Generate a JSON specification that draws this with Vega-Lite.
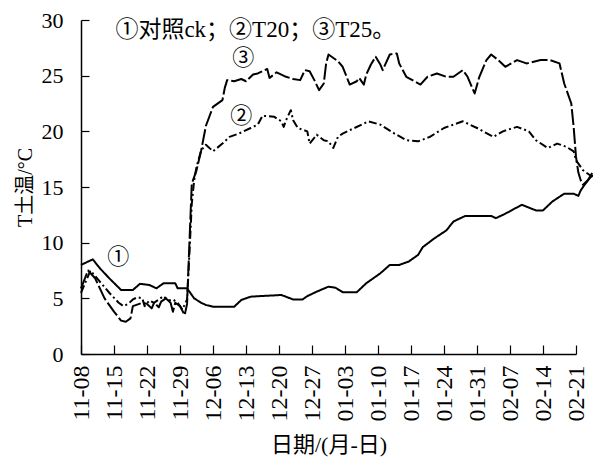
{
  "$schema": "https://vega.github.io/schema/vega-lite/v6.json",
  "width": 495,
  "height": 334,
  "autosize": "none",
  "padding": {"left": 81, "top": 20, "right": 19, "bottom": 108},
  "background": "white",
  "config": {"view": {"stroke": null}, "font": "Liberation Serif"},
  "datasets": {
    "temps": [
      {"s":"ck","t":"2019-11-08T00:00","v":8.0},{"s":"ck","t":"2019-11-10T12:00","v":8.5},{"s":"ck","t":"2019-11-12T00:00","v":7.7},{"s":"ck","t":"2019-11-14T00:00","v":6.8},{"s":"ck","t":"2019-11-16T12:00","v":5.75},{"s":"ck","t":"2019-11-19T00:00","v":5.75},{"s":"ck","t":"2019-11-20T12:00","v":6.3},{"s":"ck","t":"2019-11-22T12:00","v":6.2},{"s":"ck","t":"2019-11-24T00:00","v":5.9},{"s":"ck","t":"2019-11-25T12:00","v":6.35},{"s":"ck","t":"2019-11-28T00:00","v":6.35},{"s":"ck","t":"2019-11-28T12:00","v":5.9},{"s":"ck","t":"2019-11-30T12:00","v":5.9},{"s":"ck","t":"2019-12-02T00:00","v":5.0},{"s":"ck","t":"2019-12-03T12:00","v":4.6},{"s":"ck","t":"2019-12-04T12:00","v":4.4},{"s":"ck","t":"2019-12-06T00:00","v":4.25},{"s":"ck","t":"2019-12-10T12:00","v":4.25},{"s":"ck","t":"2019-12-12T00:00","v":4.85},{"s":"ck","t":"2019-12-14T00:00","v":5.15},{"s":"ck","t":"2019-12-16T00:00","v":5.2},{"s":"ck","t":"2019-12-20T12:00","v":5.3},{"s":"ck","t":"2019-12-23T00:00","v":4.9},{"s":"ck","t":"2019-12-25T00:00","v":4.9},{"s":"ck","t":"2019-12-26T00:00","v":5.2},{"s":"ck","t":"2019-12-28T00:00","v":5.6},{"s":"ck","t":"2019-12-30T12:00","v":6.05},{"s":"ck","t":"2020-01-01T00:00","v":5.95},{"s":"ck","t":"2020-01-02T12:00","v":5.55},{"s":"ck","t":"2020-01-05T12:00","v":5.55},{"s":"ck","t":"2020-01-07T12:00","v":6.35},{"s":"ck","t":"2020-01-10T12:00","v":7.25},{"s":"ck","t":"2020-01-12T12:00","v":8.0},{"s":"ck","t":"2020-01-14T12:00","v":8.0},{"s":"ck","t":"2020-01-16T12:00","v":8.3},{"s":"ck","t":"2020-01-18T12:00","v":8.9},{"s":"ck","t":"2020-01-19T12:00","v":9.6},{"s":"ck","t":"2020-01-22T00:00","v":10.4},{"s":"ck","t":"2020-01-24T12:00","v":11.1},{"s":"ck","t":"2020-01-26T00:00","v":11.9},{"s":"ck","t":"2020-01-28T12:00","v":12.4},{"s":"ck","t":"2020-02-03T00:00","v":12.4},{"s":"ck","t":"2020-02-04T00:00","v":12.2},{"s":"ck","t":"2020-02-06T00:00","v":12.6},{"s":"ck","t":"2020-02-09T12:00","v":13.4},{"s":"ck","t":"2020-02-12T12:00","v":12.9},{"s":"ck","t":"2020-02-14T00:00","v":12.9},{"s":"ck","t":"2020-02-16T00:00","v":13.7},{"s":"ck","t":"2020-02-18T12:00","v":14.4},{"s":"ck","t":"2020-02-20T12:00","v":14.4},{"s":"ck","t":"2020-02-21T12:00","v":14.2},{"s":"ck","t":"2020-02-22T00:00","v":14.7},{"s":"ck","t":"2020-02-23T00:00","v":15.3},{"s":"ck","t":"2020-02-24T12:00","v":16.1},

      {"s":"T25","t":"2019-11-08T00:00","v":5.9},{"s":"T25","t":"2019-11-09T12:00","v":7.5},{"s":"T25","t":"2019-11-11T00:00","v":6.8},{"s":"T25","t":"2019-11-13T00:00","v":5.0},{"s":"T25","t":"2019-11-15T00:00","v":3.8},{"s":"T25","t":"2019-11-16T12:00","v":3.0},{"s":"T25","t":"2019-11-17T12:00","v":2.9},{"s":"T25","t":"2019-11-18T12:00","v":3.2},{"s":"T25","t":"2019-11-19T00:00","v":4.3},{"s":"T25","t":"2019-11-21T00:00","v":4.6},{"s":"T25","t":"2019-11-22T00:00","v":4.5},{"s":"T25","t":"2019-11-23T00:00","v":4.1},{"s":"T25","t":"2019-11-23T12:00","v":4.6},{"s":"T25","t":"2019-11-24T12:00","v":4.2},{"s":"T25","t":"2019-11-25T00:00","v":4.7},{"s":"T25","t":"2019-11-26T00:00","v":5.0},{"s":"T25","t":"2019-11-27T00:00","v":4.6},{"s":"T25","t":"2019-11-27T12:00","v":3.8},{"s":"T25","t":"2019-11-28T00:00","v":4.6},{"s":"T25","t":"2019-11-29T00:00","v":4.3},{"s":"T25","t":"2019-11-30T00:00","v":3.5},{"s":"T25","t":"2019-11-30T12:00","v":4.5},{"s":"T25","t":"2019-12-01T00:00","v":10.0},{"s":"T25","t":"2019-12-01T12:00","v":15.3},{"s":"T25","t":"2019-12-02T12:00","v":16.5},{"s":"T25","t":"2019-12-03T12:00","v":18.3},{"s":"T25","t":"2019-12-04T12:00","v":20.5},{"s":"T25","t":"2019-12-06T00:00","v":22.2},{"s":"T25","t":"2019-12-08T00:00","v":22.8},{"s":"T25","t":"2019-12-08T12:00","v":23.9},{"s":"T25","t":"2019-12-09T00:00","v":24.6},{"s":"T25","t":"2019-12-10T12:00","v":24.5},{"s":"T25","t":"2019-12-12T00:00","v":24.7},{"s":"T25","t":"2019-12-13T00:00","v":24.5},{"s":"T25","t":"2019-12-14T12:00","v":25.1},{"s":"T25","t":"2019-12-15T12:00","v":25.2},{"s":"T25","t":"2019-12-17T12:00","v":25.6},{"s":"T25","t":"2019-12-18T00:00","v":24.8},{"s":"T25","t":"2019-12-19T12:00","v":25.3},{"s":"T25","t":"2019-12-21T12:00","v":24.9},{"s":"T25","t":"2019-12-23T00:00","v":24.7},{"s":"T25","t":"2019-12-24T12:00","v":24.6},{"s":"T25","t":"2019-12-25T12:00","v":25.5},{"s":"T25","t":"2019-12-26T12:00","v":25.4},{"s":"T25","t":"2019-12-27T12:00","v":24.6},{"s":"T25","t":"2019-12-28T12:00","v":23.7},{"s":"T25","t":"2019-12-29T12:00","v":24.3},{"s":"T25","t":"2019-12-30T00:00","v":26.1},{"s":"T25","t":"2019-12-30T12:00","v":26.9},{"s":"T25","t":"2020-01-01T12:00","v":26.3},{"s":"T25","t":"2020-01-02T12:00","v":25.8},{"s":"T25","t":"2020-01-04T00:00","v":24.2},{"s":"T25","t":"2020-01-05T12:00","v":24.5},{"s":"T25","t":"2020-01-06T00:00","v":24.8},{"s":"T25","t":"2020-01-07T00:00","v":24.2},{"s":"T25","t":"2020-01-07T12:00","v":25.1},{"s":"T25","t":"2020-01-08T12:00","v":26.0},{"s":"T25","t":"2020-01-09T12:00","v":26.7},{"s":"T25","t":"2020-01-10T12:00","v":26.0},{"s":"T25","t":"2020-01-11T00:00","v":25.5},{"s":"T25","t":"2020-01-12T12:00","v":26.9},{"s":"T25","t":"2020-01-14T00:00","v":27.0},{"s":"T25","t":"2020-01-14T12:00","v":26.1},{"s":"T25","t":"2020-01-16T00:00","v":24.9},{"s":"T25","t":"2020-01-19T00:00","v":24.2},{"s":"T25","t":"2020-01-20T12:00","v":24.9},{"s":"T25","t":"2020-01-22T12:00","v":25.2},{"s":"T25","t":"2020-01-24T12:00","v":24.9},{"s":"T25","t":"2020-01-26T00:00","v":24.9},{"s":"T25","t":"2020-01-28T00:00","v":25.5},{"s":"T25","t":"2020-01-29T00:00","v":24.9},{"s":"T25","t":"2020-01-30T12:00","v":23.4},{"s":"T25","t":"2020-01-31T12:00","v":24.9},{"s":"T25","t":"2020-02-02T00:00","v":26.4},{"s":"T25","t":"2020-02-03T00:00","v":26.9},{"s":"T25","t":"2020-02-04T12:00","v":26.4},{"s":"T25","t":"2020-02-06T00:00","v":25.8},{"s":"T25","t":"2020-02-08T12:00","v":26.4},{"s":"T25","t":"2020-02-10T12:00","v":26.1},{"s":"T25","t":"2020-02-13T12:00","v":26.4},{"s":"T25","t":"2020-02-15T12:00","v":26.4},{"s":"T25","t":"2020-02-17T12:00","v":26.1},{"s":"T25","t":"2020-02-18T12:00","v":24.3},{"s":"T25","t":"2020-02-20T00:00","v":22.5},{"s":"T25","t":"2020-02-20T12:00","v":20.4},{"s":"T25","t":"2020-02-21T00:00","v":17.7},{"s":"T25","t":"2020-02-21T12:00","v":16.3},{"s":"T25","t":"2020-02-22T00:00","v":15.6},{"s":"T25","t":"2020-02-22T12:00","v":15.2},{"s":"T25","t":"2020-02-23T12:00","v":15.6},{"s":"T25","t":"2020-02-24T12:00","v":16.3},

      {"s":"T20","t":"2019-11-08T00:00","v":5.5},{"s":"T20","t":"2019-11-10T00:00","v":7.5},{"s":"T20","t":"2019-11-12T00:00","v":6.5},{"s":"T20","t":"2019-11-14T00:00","v":5.5},{"s":"T20","t":"2019-11-16T00:00","v":4.6},{"s":"T20","t":"2019-11-17T00:00","v":4.3},{"s":"T20","t":"2019-11-18T00:00","v":4.5},{"s":"T20","t":"2019-11-19T00:00","v":4.9},{"s":"T20","t":"2019-11-20T00:00","v":5.1},{"s":"T20","t":"2019-11-21T00:00","v":5.0},{"s":"T20","t":"2019-11-21T12:00","v":4.3},{"s":"T20","t":"2019-11-22T12:00","v":4.8},{"s":"T20","t":"2019-11-23T12:00","v":4.6},{"s":"T20","t":"2019-11-24T12:00","v":4.9},{"s":"T20","t":"2019-11-25T12:00","v":5.2},{"s":"T20","t":"2019-11-26T12:00","v":4.8},{"s":"T20","t":"2019-11-27T12:00","v":4.9},{"s":"T20","t":"2019-11-28T12:00","v":4.6},{"s":"T20","t":"2019-11-29T12:00","v":4.0},{"s":"T20","t":"2019-11-30T12:00","v":4.9},{"s":"T20","t":"2019-12-01T00:00","v":9.0},{"s":"T20","t":"2019-12-01T12:00","v":13.5},{"s":"T20","t":"2019-12-02T00:00","v":15.6},{"s":"T20","t":"2019-12-02T12:00","v":16.8},{"s":"T20","t":"2019-12-03T12:00","v":18.3},{"s":"T20","t":"2019-12-04T12:00","v":18.8},{"s":"T20","t":"2019-12-06T00:00","v":18.2},{"s":"T20","t":"2019-12-08T00:00","v":18.9},{"s":"T20","t":"2019-12-09T12:00","v":19.5},{"s":"T20","t":"2019-12-11T12:00","v":19.8},{"s":"T20","t":"2019-12-14T00:00","v":20.3},{"s":"T20","t":"2019-12-15T12:00","v":20.6},{"s":"T20","t":"2019-12-16T12:00","v":21.4},{"s":"T20","t":"2019-12-19T00:00","v":21.3},{"s":"T20","t":"2019-12-20T12:00","v":20.9},{"s":"T20","t":"2019-12-21T00:00","v":20.4},{"s":"T20","t":"2019-12-21T12:00","v":21.0},{"s":"T20","t":"2019-12-22T12:00","v":21.9},{"s":"T20","t":"2019-12-23T00:00","v":21.0},{"s":"T20","t":"2019-12-24T00:00","v":20.3},{"s":"T20","t":"2019-12-26T00:00","v":20.0},{"s":"T20","t":"2019-12-26T12:00","v":18.9},{"s":"T20","t":"2019-12-28T00:00","v":19.7},{"s":"T20","t":"2019-12-29T12:00","v":19.2},{"s":"T20","t":"2019-12-30T12:00","v":19.1},{"s":"T20","t":"2019-12-31T12:00","v":18.5},{"s":"T20","t":"2020-01-01T12:00","v":19.5},{"s":"T20","t":"2020-01-02T12:00","v":19.8},{"s":"T20","t":"2020-01-05T00:00","v":20.3},{"s":"T20","t":"2020-01-08T00:00","v":20.9},{"s":"T20","t":"2020-01-10T12:00","v":20.6},{"s":"T20","t":"2020-01-13T12:00","v":19.8},{"s":"T20","t":"2020-01-16T00:00","v":19.2},{"s":"T20","t":"2020-01-18T12:00","v":19.1},{"s":"T20","t":"2020-01-21T00:00","v":19.5},{"s":"T20","t":"2020-01-24T00:00","v":20.3},{"s":"T20","t":"2020-01-28T00:00","v":20.9},{"s":"T20","t":"2020-01-31T00:00","v":20.3},{"s":"T20","t":"2020-02-03T12:00","v":19.5},{"s":"T20","t":"2020-02-05T12:00","v":20.0},{"s":"T20","t":"2020-02-08T12:00","v":20.4},{"s":"T20","t":"2020-02-11T00:00","v":20.0},{"s":"T20","t":"2020-02-12T12:00","v":19.2},{"s":"T20","t":"2020-02-15T00:00","v":18.5},{"s":"T20","t":"2020-02-17T00:00","v":18.9},{"s":"T20","t":"2020-02-19T00:00","v":18.6},{"s":"T20","t":"2020-02-20T12:00","v":18.2},{"s":"T20","t":"2020-02-21T00:00","v":17.4},{"s":"T20","t":"2020-02-22T12:00","v":16.5},{"s":"T20","t":"2020-02-24T12:00","v":15.9}
    ],
    "notes": [
      {"t":"2019-11-15T07:00","v":29.1,"label":"①对照ck；②T20；③T25。","a":"left"},
      {"t":"2019-12-12T10:00","v":26.6,"label":"③","a":"center"},
      {"t":"2019-12-12T00:00","v":21.4,"label":"②","a":"center"},
      {"t":"2019-11-15T22:00","v":8.7,"label":"①","a":"center"}
    ]
  },
  "layer": [
    {
      "data": {"name": "temps"},
      "mark": {"type": "line", "clip": false, "strokeWidth": 2, "color": "black", "strokeJoin": "round"},
      "encoding": {
        "x": {
          "field": "t", "type": "temporal",
          "scale": {"domain": [{"year":2019,"month":11,"date":8},{"year":2020,"month":2,"date":21}]},
          "axis": {
            "title": "日期/(月-日)",
            "values": [
              {"year":2019,"month":11,"date":8},{"year":2019,"month":11,"date":15},{"year":2019,"month":11,"date":22},{"year":2019,"month":11,"date":29},
              {"year":2019,"month":12,"date":6},{"year":2019,"month":12,"date":13},{"year":2019,"month":12,"date":20},{"year":2019,"month":12,"date":27},
              {"year":2020,"month":1,"date":3},{"year":2020,"month":1,"date":10},{"year":2020,"month":1,"date":17},{"year":2020,"month":1,"date":24},
              {"year":2020,"month":1,"date":31},{"year":2020,"month":2,"date":7},{"year":2020,"month":2,"date":14},{"year":2020,"month":2,"date":21}
            ],
            "tickCount": 30,
            "format": "%m-%d",
            "labelAngle": -90,
            "labelAlign": "right",
            "labelBaseline": "middle",
            "labelFont": "Liberation Serif",
            "labelFontSize": 24,
            "labelColor": "black",
            "labelPadding": 20,
            "labelOverlap": false,
            "labelFlush": false,
            "tickSize": -9,
            "tickColor": "black",
            "tickWidth": 1.2,
            "domainColor": "black",
            "domainWidth": 1.5,
            "grid": false,
            "titleFont": "Liberation Serif, Noto Sans CJK SC",
            "titleFontSize": 22,
            "titleFontWeight": "normal",
            "titleColor": "black",
            "titleBaseline": "alphabetic",
            "titleY": 97
          }
        },
        "y": {
          "field": "v", "type": "quantitative",
          "scale": {"domain": [0, 30], "nice": false},
          "axis": {
            "title": "T土温/°C",
            "values": [0, 5, 10, 15, 20, 25, 30],
            "tickCount": 10,
            "labelFont": "Liberation Serif",
            "labelFontSize": 22,
            "labelColor": "black",
            "labelPadding": 26,
            "tickSize": -8,
            "tickColor": "black",
            "tickWidth": 1.2,
            "domainColor": "black",
            "domainWidth": 1.5,
            "grid": false,
            "titleFont": "Liberation Serif, Noto Sans CJK SC",
            "titleFontSize": 20,
            "titleFontWeight": "normal",
            "titleColor": "black",
            "titleAngle": -90,
            "titleBaseline": "middle",
            "titleAlign": "center",
            "titleX": -56,
            "titleY": 167
          }
        },
        "detail": {"field": "s"},
        "strokeDash": {
          "field": "s", "type": "nominal",
          "scale": {"domain": ["ck", "T20", "T25"], "range": [[1, 0], [8, 3, 2, 3], [16, 3]]},
          "legend": null
        }
      }
    },
    {
      "data": {"name": "notes"},
      "transform": [{"filter": "datum.a == 'left'"}],
      "mark": {"type": "text", "align": "left", "baseline": "middle", "fontSize": 23, "font": "Liberation Serif, Noto Sans CJK SC", "color": "black", "clip": false},
      "encoding": {
        "x": {"field": "t", "type": "temporal"},
        "y": {"field": "v", "type": "quantitative"},
        "text": {"field": "label"}
      }
    },
    {
      "data": {"name": "notes"},
      "transform": [{"filter": "datum.a == 'center'"}],
      "mark": {"type": "text", "align": "center", "baseline": "middle", "fontSize": 22, "font": "Liberation Serif, Noto Sans CJK SC", "color": "black", "clip": false},
      "encoding": {
        "x": {"field": "t", "type": "temporal"},
        "y": {"field": "v", "type": "quantitative"},
        "text": {"field": "label"}
      }
    }
  ]
}
